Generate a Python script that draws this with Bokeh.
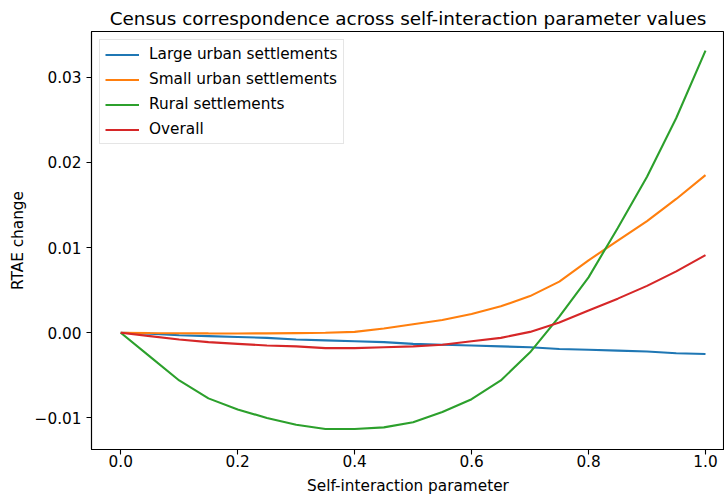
from bokeh.plotting import figure
from bokeh.embed import file_html
from bokeh.resources import INLINE
from bokeh.models import FixedTicker, CustomJSTickFormatter, Range1d, Legend, LegendItem

x = [0.0, 0.05, 0.1, 0.15, 0.2, 0.25, 0.3, 0.35, 0.4, 0.45, 0.5,
     0.55, 0.6, 0.65, 0.7, 0.75, 0.8, 0.85, 0.9, 0.95, 1.0]
large_urban = [0.0, -0.0001, -0.0003, -0.0004, -0.0005, -0.0006, -0.0008, -0.0009, -0.0010, -0.0011, -0.0013,
               -0.0014, -0.0015, -0.0016, -0.0017, -0.0019, -0.0020, -0.0021, -0.0022, -0.0024, -0.0025]
small_urban = [0.0, -0.00003, -0.00005, -0.00007, -0.00008, -0.00007, -0.00004, 0.0, 0.0001, 0.0005, 0.0010,
               0.0015, 0.0022, 0.0031, 0.0043, 0.0060, 0.0085, 0.0108, 0.0131, 0.0157, 0.0185]
rural = [0.0, -0.0028, -0.0056, -0.0077, -0.0090, -0.0100, -0.0108, -0.0113, -0.0113, -0.0111, -0.0105,
         -0.0093, -0.0078, -0.0056, -0.0023, 0.0019, 0.0065, 0.0123, 0.0183, 0.0252, 0.0331]
overall = [0.0, -0.0004, -0.0008, -0.0011, -0.0013, -0.0015, -0.0016, -0.0018, -0.0018, -0.0017, -0.0016,
           -0.0014, -0.0010, -0.0006, 0.0001, 0.0012, 0.0026, 0.0040, 0.0055, 0.0072, 0.0091]

series = [("Large urban settlements", large_urban, "#1f77b4"),
          ("Small urban settlements", small_urban, "#ff7f0e"),
          ("Rural settlements", rural, "#2ca02c"),
          ("Overall", overall, "#d62728")]

x_ticks = [0.0, 0.2, 0.4, 0.6, 0.8, 1.0]
y_ticks = [-0.01, 0.0, 0.01, 0.02, 0.03]

FONT = "DejaVu Sans"
SMALL = "15.3px"

p = figure(width=724, height=497, output_backend="svg", toolbar_location=None,
           x_range=Range1d(-0.05, 1.0325), y_range=Range1d(-0.0137, 0.03535),
           title="Census correspondence across self-interaction parameter values",
           min_border_left=91, min_border_right=0, min_border_top=31, min_border_bottom=47)

p.title.text_font = FONT
p.title.text_font_size = "18.4px"
p.title.text_font_style = "normal"
p.title.align = "center"
p.title.offset = 4
p.title.text_color = "#000000"
p.title.standoff = 5

p.grid.visible = False
p.outline_line_color = "#000000"
p.outline_line_width = 1.1
p.background_fill_color = "white"
p.border_fill_color = "white"

renderers = []
for name, ys, color in series:
    r = p.line(x, ys, line_color=color, line_width=2.1)
    renderers.append((name, r))

for ax in (p.xaxis[0], p.yaxis[0]):
    ax.axis_line_color = "#000000"
    ax.axis_line_width = 1.1
    ax.major_tick_line_color = "#000000"
    ax.major_tick_line_width = 1.1
    ax.major_tick_out = 5
    ax.major_tick_in = 0
    ax.minor_tick_line_color = None
    ax.major_label_text_font = FONT
    ax.major_label_text_font_size = SMALL
    ax.major_label_text_color = "#000000"
    ax.major_label_standoff = 5
    ax.axis_label_text_font = FONT
    ax.axis_label_text_font_size = SMALL
    ax.axis_label_text_font_style = "normal"
    ax.axis_label_text_color = "#000000"
    ax.axis_label_standoff = 5

p.xaxis[0].major_label_standoff = 0
p.xaxis[0].axis_label_standoff = 7

p.xaxis[0].ticker = FixedTicker(ticks=x_ticks)
p.yaxis[0].ticker = FixedTicker(ticks=y_ticks)
p.xaxis[0].formatter = CustomJSTickFormatter(code="return (tick < 0 ? '\u2212' : '') + Math.abs(tick).toFixed(1);")
p.yaxis[0].formatter = CustomJSTickFormatter(code="return (tick < -1e-9 ? '\u2212' : '') + Math.abs(tick).toFixed(2);")
p.xaxis[0].axis_label = "Self-interaction parameter"
p.yaxis[0].axis_label = "RTAE change"

legend = Legend(items=[LegendItem(label=n, renderers=[r]) for n, r in renderers],
                location="top_left")
legend.margin = 8
legend.padding = 5
legend.glyph_width = 34
legend.glyph_height = 17
legend.label_height = 17
legend.label_standoff = 10
legend.spacing = 7
legend.label_text_font = FONT
legend.label_text_font_size = SMALL
legend.label_text_color = "#000000"
legend.border_line_color = "#cccccc"
legend.border_line_width = 1
legend.background_fill_alpha = 0.8
p.add_layout(legend)

open("out.html", "w").write(file_html(p, INLINE))
